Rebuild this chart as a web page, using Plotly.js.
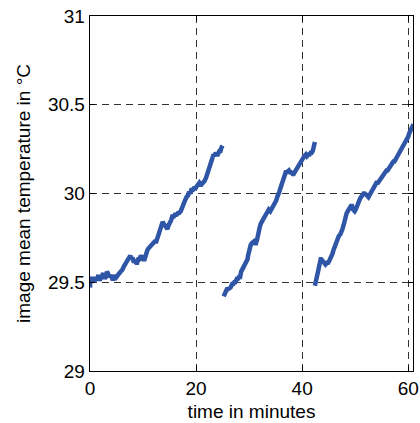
<!DOCTYPE html>
<html>
<head>
<meta charset="utf-8">
<script src="https://cdn.plot.ly/plotly-3.0.1.min.js"></script>
<style>html,body{margin:0;padding:0;background:#fff;}#chart{width:420px;height:423px;}</style>
</head>
<body>
<div id="chart"></div>
<script>
// Segment 1
const seg1Time = [0.0,0.1,0.4,0.6,0.8,1.0,1.2,1.4,1.6,1.8,2.0,2.3,2.5,2.8,3.0,3.2,3.4,3.7,3.9,4.2,4.5,4.8,5.0,5.3,5.5,5.8,6.1,6.4,6.6,6.9,7.1,7.4,7.6,7.8,8.0,8.2,8.4,8.7,8.9,9.1,9.3,9.6,9.8,10.0,10.3,10.5,10.8,11.0,11.3,11.5,11.8,12.0,12.2,12.5,12.7,13.0,13.2,13.5,13.7,13.9,14.1,14.4,14.6,14.8,15.0,15.3,15.5,15.8,16.0,16.3,16.6,16.8,17.1,17.3,17.5,17.7,17.9,18.2,18.5,18.7,18.9,19.1,19.4,19.6,19.9,20.1,20.4,20.6,20.8,21.0,21.3,21.6,21.9,22.1,22.3,22.6,22.8,23.0,23.3,23.5,23.7,23.9,24.1,24.4,24.6,24.8,25.0];
const seg1Temp = [29.47,29.53,29.50,29.52,29.50,29.53,29.51,29.52,29.54,29.51,29.52,29.54,29.55,29.52,29.53,29.56,29.55,29.53,29.54,29.52,29.52,29.54,29.53,29.55,29.55,29.56,29.57,29.59,29.60,29.62,29.63,29.64,29.65,29.63,29.64,29.62,29.62,29.61,29.61,29.63,29.63,29.65,29.64,29.63,29.63,29.66,29.68,29.69,29.70,29.70,29.71,29.72,29.73,29.73,29.75,29.77,29.79,29.82,29.84,29.83,29.82,29.81,29.80,29.82,29.83,29.85,29.87,29.87,29.88,29.88,29.89,29.89,29.90,29.92,29.93,29.94,29.96,29.98,29.99,30.01,30.00,30.02,30.02,30.03,30.03,30.04,30.05,30.06,30.05,30.05,30.06,30.07,30.09,30.11,30.13,30.16,30.18,30.20,30.22,30.21,30.23,30.22,30.22,30.24,30.24,30.26,30.27];
// Segment 2
const seg2Time = [25.2,25.4,25.6,25.8,26.0,26.3,26.5,26.8,27.0,27.2,27.4,27.7,27.9,28.1,28.3,28.5,28.7,28.9,29.1,29.3,29.5,29.7,29.8,30.0,30.1,30.3,30.5,30.7,30.9,31.1,31.3,31.5,31.6,31.8,32.0,32.2,32.4,32.6,32.8,33.0,33.2,33.5,33.7,34.0,34.2,34.4,34.6,34.9,35.1,35.3,35.5,35.7,35.9,36.1,36.3,36.5,36.7,36.9,37.1,37.3,37.5,37.7,37.9,38.2,38.4,38.6,38.8,39.0,39.2,39.4,39.6,39.8,40.0,40.2,40.4,40.7,40.9,41.2,41.4,41.6,41.8,42.0,42.1,42.3,42.4];
const seg2Temp = [29.42,29.44,29.44,29.46,29.46,29.47,29.47,29.49,29.49,29.50,29.50,29.52,29.52,29.53,29.53,29.56,29.57,29.58,29.59,29.60,29.61,29.63,29.65,29.68,29.70,29.71,29.72,29.73,29.73,29.72,29.72,29.74,29.76,29.79,29.81,29.83,29.84,29.86,29.87,29.88,29.89,29.90,29.91,29.90,29.91,29.92,29.93,29.95,29.96,29.98,29.99,30.01,30.03,30.05,30.07,30.09,30.11,30.12,30.12,30.13,30.13,30.12,30.12,30.11,30.11,30.12,30.13,30.14,30.15,30.16,30.18,30.19,30.20,30.21,30.21,30.22,30.21,30.22,30.22,30.23,30.23,30.24,30.25,30.27,30.29];
// Segment 3
const seg3Time = [42.4,42.6,42.7,42.9,43.0,43.2,43.3,43.5,43.6,43.8,44.0,44.2,44.4,44.7,44.9,45.1,45.3,45.5,45.7,45.9,46.1,46.3,46.5,46.7,46.9,47.2,47.4,47.6,47.8,48.0,48.2,48.4,48.6,48.8,49.0,49.2,49.4,49.6,49.8,49.9,50.1,50.3,50.5,50.7,50.9,51.1,51.3,51.6,51.8,52.0,52.2,52.5,52.7,52.9,53.1,53.4,53.6,53.8,54.0,54.3,54.5,54.8,55.0,55.2,55.4,55.7,55.9,56.1,56.3,56.6,56.8,57.0,57.2,57.4,57.6,57.9,58.1,58.4,58.6,58.8,59.0,59.2,59.4,59.6,59.8,60.0,60.2,60.4,60.6,60.8,61.0];
const seg3Temp = [29.48,29.50,29.52,29.54,29.56,29.59,29.62,29.63,29.63,29.62,29.61,29.61,29.60,29.61,29.61,29.62,29.63,29.65,29.66,29.68,29.70,29.71,29.73,29.74,29.76,29.77,29.78,29.80,29.82,29.85,29.87,29.89,29.90,29.92,29.92,29.93,29.93,29.91,29.90,29.90,29.91,29.93,29.94,29.96,29.97,29.98,29.99,30.00,30.00,29.99,29.99,29.98,29.99,30.00,30.01,30.03,30.04,30.05,30.06,30.06,30.07,30.08,30.09,30.10,30.11,30.12,30.13,30.13,30.14,30.15,30.16,30.17,30.18,30.18,30.19,30.21,30.22,30.24,30.25,30.26,30.27,30.28,30.29,30.30,30.31,30.32,30.34,30.35,30.36,30.37,30.39];

const xTicks = [0,20,40,60];
const yTicks = [29,29.5,30,30.5,31];
const yTickText = ['29','29.5','30','30.5','31'];

const lineStyle = {color:'#2f55a6', width:4.5};
const traces = [
  {x:seg1Time, y:seg1Temp, mode:'lines', line:lineStyle, showlegend:false, hoverinfo:'skip'},
  {x:seg2Time, y:seg2Temp, mode:'lines', line:lineStyle, showlegend:false, hoverinfo:'skip'},
  {x:seg3Time, y:seg3Temp, mode:'lines', line:lineStyle, showlegend:false, hoverinfo:'skip'}
];

const font = {family:'"Liberation Sans", Arial, sans-serif', size:19, color:'#000'};
const axisCommon = {
  showline:true, linecolor:'#000', linewidth:1.3, mirror:'ticks',
  ticks:'inside', ticklen:5, tickcolor:'#000', tickwidth:1,
  showgrid:true, gridcolor:'#333', gridwidth:1, griddash:'7px,5px',
  zeroline:false, tickfont:font, automargin:false
};

const layout = {
  width:420, height:423,
  margin:{l:90, r:7, t:16, b:52, pad:0},
  paper_bgcolor:'#fff', plot_bgcolor:'#fff',
  font:font,
  xaxis:Object.assign({}, axisCommon, {
    range:[0,60.9], tickvals:xTicks, ticktext:xTicks.map(String),
    title:{text:'time in minutes', font:font, standoff:6}
  }),
  yaxis:Object.assign({}, axisCommon, {
    range:[29,31], tickvals:yTicks, ticktext:yTickText,
    title:{text:'image mean temperature in °C', font:font, standoff:12}
  })
};

Plotly.newPlot('chart', traces, layout, {staticPlot:true, displayModeBar:false});
</script>
</body>
</html>
